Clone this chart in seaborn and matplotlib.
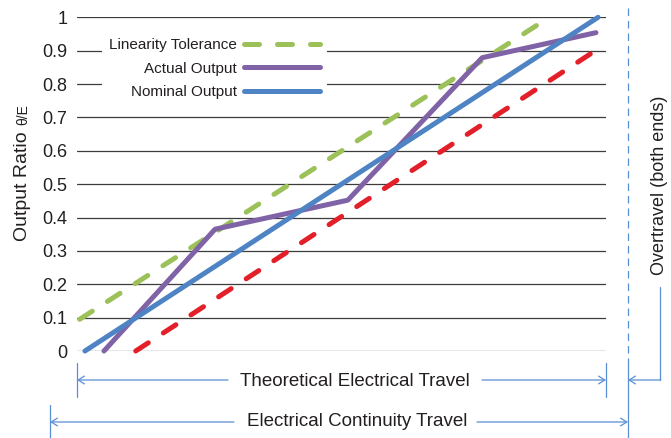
import matplotlib
matplotlib.use("Agg")
import matplotlib.pyplot as plt
from matplotlib import font_manager
from matplotlib.lines import Line2D
from matplotlib.patches import FancyArrowPatch
import seaborn as sns

# ---------------- data ----------------
tolerance_hi_x = [0.5, 88.3]
tolerance_hi_y = [0.095, 0.99]
tolerance_lo_x = [11.1, 97.5]
tolerance_lo_y = [0.0, 0.895]
nominal_x = [1.5, 98.5]
nominal_y = [0.0, 1.0]
actual_x = [5.1, 26.1, 51.2, 76.6, 98.1]
actual_y = [0.0, 0.365, 0.452, 0.879, 0.954]
y_ticks = [0, 0.1, 0.2, 0.3, 0.4, 0.5, 0.6, 0.7, 0.8, 0.9, 1]
y_tick_labels = ["0", "0.1", "0.2", "0.3", "0.4", "0.5", "0.6", "0.7", "0.8", "0.9", "1"]

# ---------------- style ----------------
sns.set_style("white")
names = {f.name for f in font_manager.fontManager.ttflist}
fam = "Liberation Sans Narrow" if "Liberation Sans Narrow" in names else "Liberation Sans"
plt.rcParams["font.family"] = [fam, "DejaVu Sans"]

TXT = "#231f20"
GREEN = "#9bc158"
RED = "#e3202a"
PURPLE = "#8062a6"
BLUE = "#4f84c4"
ANN = "#5b8fd4"

W, H = 671, 438
fig = plt.figure(figsize=(W / 100, H / 100), dpi=100)


def P(x, y):
    return (x / W, 1 - y / H)


ax = fig.add_axes([77 / W, 1 - 351 / H, (606 - 77) / W, (351 - 17.3) / H])
ax.set_xlim(0, 100)
ax.set_ylim(0, 1)

LW = 3.6
sns.lineplot(x=tolerance_hi_x, y=tolerance_hi_y, ax=ax, color=GREEN, lw=LW,
             label="Linearity Tolerance", clip_on=False, zorder=3)
sns.lineplot(x=tolerance_lo_x, y=tolerance_lo_y, ax=ax, color=RED, lw=LW,
             clip_on=False, zorder=3)
sns.lineplot(x=actual_x, y=actual_y, ax=ax, color=PURPLE, lw=LW,
             label="Actual Output", clip_on=False, zorder=4)
sns.lineplot(x=nominal_x, y=nominal_y, ax=ax, color=BLUE, lw=LW,
             label="Nominal Output", clip_on=False, zorder=5)

for ln in ax.get_lines():
    c = ln.get_color()
    ln.set_solid_capstyle("round")
    if c in (GREEN, RED):
        ln.set_linestyle((0, (3.0, 3.6)))
        ln.set_dash_capstyle("round")

ax.set_yticks(y_ticks)
ax.set_yticklabels(y_tick_labels)
ax.set_xticks([])
ax.tick_params(axis="y", length=0, pad=7, labelsize=13, labelcolor=TXT)
ax.grid(axis="y", color="#3c3c3c", lw=0.9)
ax.set_axisbelow(True)
for s in ax.spines.values():
    s.set_visible(False)
ax.set_xlabel("")
ax.set_ylabel("")

leg = ax.legend(loc="upper right", bbox_to_anchor=P(327, 31), bbox_transform=fig.transFigure,
                markerfirst=False, frameon=True, fancybox=False, framealpha=1,
                facecolor="white", edgecolor="none", fontsize=11,
                handlelength=5.0, handletextpad=0.46, labelspacing=0.63,
                borderpad=0.45, borderaxespad=0)
for t in leg.get_texts():
    t.set_color(TXT)
for h in leg.get_lines():
    h.set_linewidth(LW)
    h.set_solid_capstyle("round")
    h.set_dash_capstyle("round")

# ---------------- annotations ----------------
def line(xs, ys, **kw):
    fig.add_artist(Line2D([x / W for x in xs], [1 - y / H for y in ys],
                          transform=fig.transFigure, color=ANN, lw=0.9, **kw))


def arrow(x0, y0, x1, y1):
    fig.add_artist(FancyArrowPatch(P(x0, y0), P(x1, y1), transform=fig.transFigure,
                                   arrowstyle="->,head_length=0.45,head_width=0.28",
                                   mutation_scale=10, color=ANN, lw=0.9,
                                   shrinkA=0, shrinkB=0))


# theoretical electrical travel
line([77, 77], [363, 397])
line([606, 606], [363, 397])
arrow(228, 380, 77, 380)
arrow(482, 380, 606, 380)
fig.text(*P(354.5, 381), "Theoretical Electrical Travel", ha="center", va="center",
         fontsize=13.5, color=TXT)

# electrical continuity travel
line([50, 50], [405, 438])
arrow(234, 422, 50, 422)
arrow(477, 422, 628, 422)
fig.text(*P(357, 422), "Electrical Continuity Travel", ha="center", va="center",
         fontsize=13.5, color=TXT)

# overtravel
line([628, 628], [8, 363], linestyle=(0, (6, 4)))
line([628, 628], [363, 438])
line([660, 660], [287, 380])
arrow(660, 380, 628, 380)
fig.text(*P(660, 185), "Overtravel (both ends)", ha="center", va="center",
         rotation=90, fontsize=13.0, color=TXT)

# y label
t1 = fig.text(*P(27, 241), "Output Ratio ", rotation=90, rotation_mode="anchor",
              ha="left", va="baseline", fontsize=14, color=TXT)
fig.canvas.draw()
bb = t1.get_window_extent()
fig.text(27 / W, (bb.y1 + 1) / H, "\u03b8/E", rotation=90, rotation_mode="anchor",
         ha="left", va="baseline", fontsize=10, color=TXT)

fig.savefig("out.png", dpi=100)
